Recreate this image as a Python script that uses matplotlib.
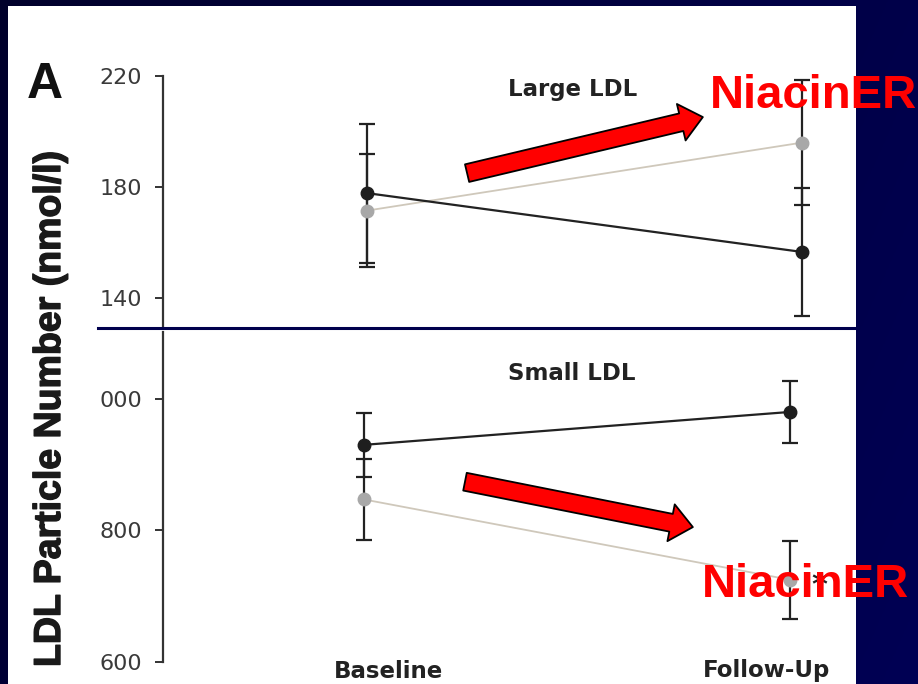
import numpy as np
import matplotlib
matplotlib.use("Agg")
import matplotlib.pyplot as plt
import matplotlib.patheffects as pe
from matplotlib.patches import Rectangle, FancyArrowPatch
from matplotlib.lines import Line2D

# ---------------- data ----------------
timepoints = ["Baseline", "Follow-Up"]
x_pos = [0, 1]

large_placebo = [177.8, 156.6]
large_placebo_err = [25.0, 23.0]
large_niacin = [171.5, 196.0]
large_niacin_err = [20.5, 22.6]

small_placebo = [930, 980]
small_placebo_err = [49, 47]
small_niacin = [847, 725]
small_niacin_err = [62, 59]

large_ticks = [140, 180, 220]
large_ticklabels = ["140", "180", "220"]
small_ticks = [600, 800, 1000]
small_ticklabels = ["600", "800", "000"]

ylabel = "LDL Particle Number (nmol/l)"
panel_titles = ["Large LDL", "Small LDL"]
callout = "NiacinER"

# ---------------- layout helpers ----------------
W, H = 918, 684
def fx(px):
    return px / W
def fy(py):
    return 1 - py / H

fig = plt.figure(figsize=(W / 100, H / 100), dpi=100)

# navy gradient background
bg = fig.add_axes([0, 0, 1, 1], zorder=-10)
gx = np.linspace(0, 1, 256)
gy = np.linspace(0, 1, 256)
GX, GY = np.meshgrid(gx, gy)
t = 0.75 * GX + 0.25 * GY
c0 = np.array([0.0, 0.0, 0.17])
c1 = np.array([0.0, 0.0, 0.33])
img = c0[None, None, :] * (1 - t[..., None]) + c1[None, None, :] * t[..., None]
bg.imshow(img, extent=[0, 1, 0, 1], aspect="auto", origin="upper")
bg.set_axis_off()

# white panel
fig.patches.append(Rectangle((fx(8), 0), fx(856) - fx(8), fy(6), transform=fig.transFigure,
                             facecolor="white", edgecolor="none", zorder=-5))

tick_font = dict(family=["DejaVu Sans"], size=16, color="#3a3a3a")
black_c = "#1e1e1e"
gray_c = "#a8a8a8"
gray_line = "#cfc8bb"

def style_axis(ax, ticks, labels, pad):
    ax.set_facecolor("none")
    for s in ["top", "right", "bottom"]:
        ax.spines[s].set_visible(False)
    ax.spines["left"].set_color("#333333")
    ax.spines["left"].set_linewidth(1.6)
    ax.set_xticks([])
    ax.set_yticks(ticks)
    ax.set_yticklabels(labels, fontdict=tick_font)
    ax.tick_params(axis="y", length=6, width=1.4, color="#333333", pad=pad)

def plot_series(ax, vals, errs, mcolor, lcolor, lw):
    ax.plot(x_pos, vals, color=lcolor, lw=lw, zorder=2)
    ax.errorbar(x_pos, vals, yerr=errs, fmt="none", ecolor="#222222", elinewidth=1.6,
                capsize=5.5, capthick=1.6, zorder=3)
    ax.plot(x_pos, vals, linestyle="none", marker="o", ms=9, mfc=mcolor, mec=mcolor, zorder=4)

# ---------------- top panel: Large LDL ----------------
ax1 = fig.add_axes([fx(163), fy(328), fx(856) - fx(163), fy(76) - fy(328)])
ax1.set_xlim(-0.469, 1.124)
ax1.set_ylim(129.2, 220)
style_axis(ax1, large_ticks, large_ticklabels, pad=9)
plot_series(ax1, large_niacin, large_niacin_err, gray_c, gray_line, 1.3)
plot_series(ax1, large_placebo, large_placebo_err, black_c, "#222222", 1.6)

# ---------------- bottom panel: Small LDL ----------------
ax2 = fig.add_axes([fx(163), fy(662), fx(856) - fx(163), fy(332) - fy(662)])
ax2.set_xlim(-0.472, 1.155)
ax2.set_ylim(600, 1101.5)
style_axis(ax2, small_ticks, small_ticklabels, pad=9)
plot_series(ax2, small_niacin, small_niacin_err, gray_c, gray_line, 1.3)
plot_series(ax2, small_placebo, small_placebo_err, black_c, "#222222", 1.6)
ax2.text(x_pos[1] + 0.07, small_niacin[1] - 8, "*", fontsize=22, fontweight="bold",
         color="#222222", ha="center", va="center", zorder=5)

# x labels
lab_font = dict(family=["DejaVu Sans"], size=16.5, weight="bold", color="#222222")
fig.text(fx(389), fy(678), timepoints[0], ha="center", va="baseline", **lab_font)
fig.text(fx(767), fy(677), timepoints[1], ha="center", va="baseline", **lab_font)

# panel titles
fig.text(fx(573), fy(96), panel_titles[0], ha="center", va="baseline", **lab_font)
fig.text(fx(572), fy(380), panel_titles[1], ha="center", va="baseline", **lab_font)

# separator line
fig.lines.append(Line2D([fx(98), fx(856)], [fy(328), fy(328)], transform=fig.transFigure,
                        color="#00004d", lw=2.2, zorder=6))

# panel letter and y label
fig.text(fx(45), fy(98), "A", ha="center", va="baseline", family=["Liberation Sans", "DejaVu Sans"],
         fontsize=36, fontweight="bold", color="#111111")
fig.text(fx(50), fy(409), ylabel, rotation=90, ha="center", va="center",
         family=["Liberation Sans", "DejaVu Sans"], fontsize=27, fontweight="bold", color="#1a1a1a",
         path_effects=[pe.withStroke(linewidth=1.0, foreground="#1a1a1a")])

# red arrows (annotations)
arrow_style = "simple,head_width=2.7,head_length=1.6,tail_width=1.3"
a1 = FancyArrowPatch((0.23, 185.0), (0.772, 205.2), arrowstyle=arrow_style, mutation_scale=10,
                     facecolor="#ff0000", edgecolor="black", lw=1.3, shrinkA=0, shrinkB=0,
                     zorder=8, clip_on=False)
ax1.add_patch(a1)
a2 = FancyArrowPatch((0.237, 874), (0.772, 805), arrowstyle=arrow_style, mutation_scale=10,
                     facecolor="#ff0000", edgecolor="black", lw=1.3, shrinkA=0, shrinkB=0,
                     zorder=8, clip_on=False)
ax2.add_patch(a2)

# NiacinER callouts
red_font = dict(family=["Liberation Sans", "DejaVu Sans"], size=34, weight="bold", color="#ff0000")
fig.text(fx(710), fy(108), callout, ha="left", va="baseline", zorder=10, **red_font)
fig.text(fx(702), fy(597), callout, ha="left", va="baseline", zorder=10, **red_font)

fig.savefig("out.png", dpi=100)
